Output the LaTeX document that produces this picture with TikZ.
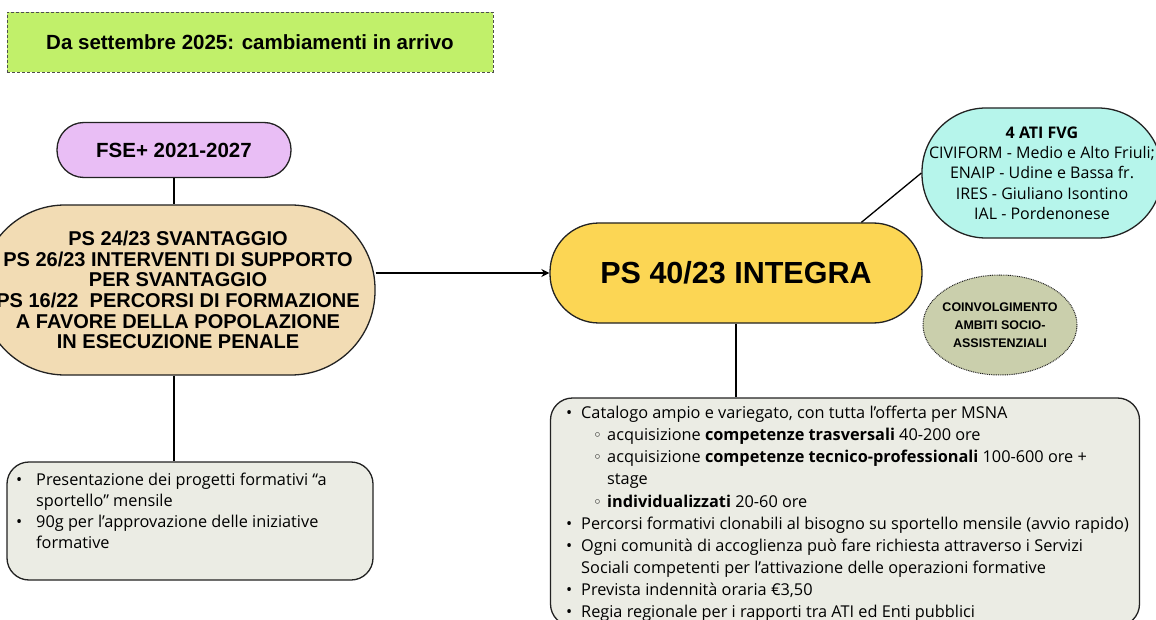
\documentclass[tikz,border=0pt]{standalone}
\usepackage{fontspec}
\setmainfont{Open Sans}
\newfontfamily\headfont{Liberation Sans}
\newfontfamily\symfont{DejaVu Sans}
\usetikzlibrary{arrows.meta,shapes.geometric}

\definecolor{titlegreen}{RGB}{193,240,106}
\definecolor{fselilac}{RGB}{233,190,245}
\definecolor{pstan}{RGB}{242,220,180}
\definecolor{integrayellow}{RGB}{252,214,84}
\definecolor{atiteal}{RGB}{182,245,235}
\definecolor{ambitiolive}{RGB}{202,207,172}
\definecolor{listgrey}{RGB}{235,236,228}
\definecolor{edgegrey}{RGB}{34,34,34}

% bullets for the lists
\newcommand{\bul}[1][15pt]{\makebox[#1][l]{•}}
\newcommand{\subbul}{\hspace*{27pt}\makebox[14pt][l]{\symfont\fontsize{15}{15}\selectfont ◦}}

\begin{document}
\begin{tikzpicture}[x=1pt,y=-1pt,
    pill/.style={draw=edgegrey,line width=1.3pt,rounded corners=#1,inner sep=0pt,align=center},
    listbox/.style={draw=edgegrey,line width=1.3pt,rounded corners=22pt,fill=listgrey,inner sep=0pt},
    link/.style={draw=black,line width=1.3pt}]
  \useasboundingbox[fill=white] (0,0) rectangle (1156,620);

  % title
  \node[draw=edgegrey!80,fill=titlegreen,dash pattern=on 3pt off 2pt,line width=0.8pt,
        minimum width=486pt,minimum height=60pt,
        font=\headfont\bfseries\fontsize{20.5}{24}\selectfont]
        (title) at (250,42) {Da settembre 2025: cambiamenti in arrivo};

  % left branch
  \node[pill=27pt,fill=fselilac,minimum width=234pt,minimum height=55pt,
        font=\headfont\bfseries\fontsize{20.5}{24}\selectfont]
        (fse) at (174,150) {FSE+ 2021-2027};
  \node[pill=84pt,fill=pstan,minimum width=394pt,minimum height=170pt,
        font=\headfont\bfseries\fontsize{20}{20.6}\selectfont]
        (ps24) at (178,290) {PS 24/23 SVANTAGGIO\\PS 26/23 INTERVENTI DI SUPPORTO\\PER SVANTAGGIO\\
        PS 16/22~ PERCORSI DI FORMAZIONE\\A FAVORE DELLA POPOLAZIONE\\IN ESECUZIONE PENALE};
  \node[listbox,minimum width=366pt,minimum height=118pt] (leftlist) at (190,521) {};
  \node[anchor=north west,inner sep=0pt,align=left,font=\fontsize{16.3}{21}\selectfont]
        (lefttext) at (16,473) {\bul[20pt]Presentazione dei progetti formativi “a\\
        \hspace*{20pt}sportello” mensile\\
        \bul[20pt]90g per l’approvazione delle iniziative\\
        \hspace*{20pt}formative};

  % right branch
  \node[pill=49pt,fill=integrayellow,minimum width=372pt,minimum height=100pt,
        font=\headfont\bfseries\fontsize{30.5}{34}\selectfont]
        (integra) at (736,273) {PS 40/23 INTEGRA};
  \node[pill=64pt,fill=atiteal,minimum width=240pt,minimum height=130pt,
        font=\fontsize{16}{20.3}\selectfont]
        (ati) at (1042,173) {\textbf{4 ATI FVG}\\CIVIFORM - Medio e Alto Friuli;\\ENAIP - Udine e Bassa fr.\\
        IRES - Giuliano Isontino\\IAL - Pordenonese};
  \node[ellipse,draw=edgegrey,dash pattern=on 0.9pt off 0.9pt,line width=1pt,fill=ambitiolive,
        minimum width=154pt,minimum height=100pt,inner xsep=-8pt,inner ysep=0pt,align=center,
        font=\headfont\bfseries\fontsize{12.5}{18}\selectfont]
        (ambiti) at (1000,325) {COINVOLGIMENTO\\AMBITI SOCIO-\\ASSISTENZIALI};
  \node[listbox,minimum width=589pt,minimum height=228pt] (rightlist) at (845,512) {};
  \node[anchor=north west,inner sep=0pt,align=left,font=\fontsize{16.3}{22.1}\selectfont]
        (righttext) at (566,406) {\bul Catalogo ampio e variegato, con tutta l’offerta per MSNA\\
        \subbul acquisizione \textbf{competenze trasversali} 40-200 ore\\
        \subbul acquisizione \textbf{competenze tecnico-professionali} 100-600 ore +\\
        \hspace*{41pt}stage\\
        \subbul \textbf{individualizzati} 20-60 ore\\
        \bul Percorsi formativi clonabili al bisogno su sportello mensile (avvio rapido)\\
        \bul Ogni comunità di accoglienza può fare richiesta attraverso i Servizi\\
        \hspace*{15pt}Sociali competenti per l’attivazione delle operazioni formative\\
        \bul Prevista indennità oraria €3,50\\
        \bul Regia regionale per i rapporti tra ATI ed Enti pubblici};

  % connectors
  \draw[link] (fse.south) -- (fse.south |- ps24.north);
  \draw[link] (fse.south |- ps24.south) -- (fse.south |- leftlist.north);
  \draw[link,-{Stealth[length=8pt,width=8pt]}] (ps24.east |- integra.west) -- (integra.west);
  \draw[link] (integra.22) -- (ati.west);
  \draw[link] (integra.south) -- (integra.south |- rightlist.north);
\end{tikzpicture}
\end{document}
